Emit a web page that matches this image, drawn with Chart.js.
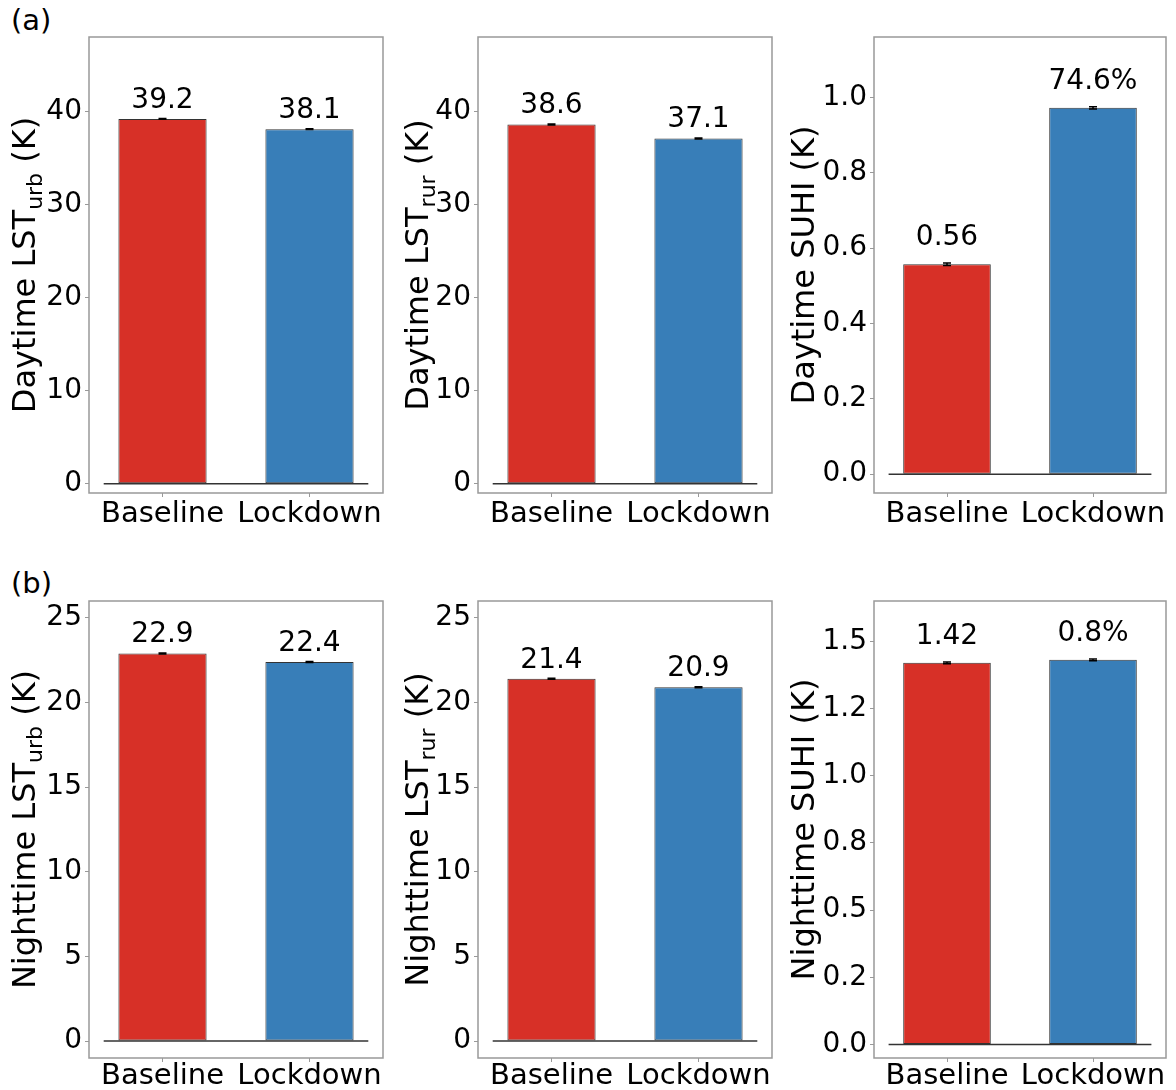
<!DOCTYPE html>
<html>
<head>
<meta charset="utf-8">
<script src="https://cdn.jsdelivr.net/npm/chart.js@4.4.1/dist/chart.umd.min.js"></script>
<style>
  body { margin: 0; background: #fff; width: 1176px; height: 1090px; position: relative; overflow: hidden; font-family: 'DejaVu Sans', sans-serif; }
  canvas { position: absolute; }
  .tag { position: absolute; font-size: 29px; color: #000; line-height: 1; }
</style>
</head>
<body>
<div class="tag" style="left:11px; top:6px;">(a)</div>
<div class="tag" style="left:11px; top:569px;">(b)</div>
<canvas id="c0"></canvas>
<canvas id="c1"></canvas>
<canvas id="c2"></canvas>
<canvas id="c3"></canvas>
<canvas id="c4"></canvas>
<canvas id="c5"></canvas>
<script>
// data
const categories = ['Baseline', 'Lockdown'];

const dayUrb = [39.2, 38.1];
const dayRur = [38.6, 37.1];
const daySuhi = [0.557, 0.972];
const nightUrb = [22.9, 22.4];
const nightRur = [21.4, 20.9];
const nightSuhi = [1.42, 1.431];

const dayUrbErr = [0.05, 0.05];
const dayRurErr = [0.05, 0.05];
const daySuhiErr = [0.003, 0.003];
const nightUrbErr = [0.03, 0.03];
const nightRurErr = [0.03, 0.03];
const nightSuhiErr = [0.003, 0.003];

const daySuhiLabels = ['0.56', '74.6%'];
const nightSuhiLabels = ['1.42', '0.8%'];

const dayLstTicks = [0, 10, 20, 30, 40];
const nightLstTicks = [0, 5, 10, 15, 20, 25];
const daySuhiTicks = [0, 0.2, 0.4, 0.6, 0.8, 1.0];
const daySuhiTickLabels = ['0.0', '0.2', '0.4', '0.6', '0.8', '1.0'];
const nightSuhiTicks = [0, 0.25, 0.5, 0.75, 1.0, 1.25, 1.5];
const nightSuhiTickLabels = ['0.0', '0.2', '0.5', '0.8', '1.0', '1.2', '1.5'];

const dayLstRange = [-1, 48];
const nightLstRange = [-1, 26];
const daySuhiRange = [-0.05, 1.16];
const nightSuhiRange = [-0.05, 1.65];

const barColors = ['#d73027', '#387eb8'];
const frameColor = '#999999';

Chart.defaults.font.family = "'DejaVu Sans', sans-serif";
Chart.defaults.color = '#000';

// page layout: canvas box and plot frame for each column / row
const cols = [
    { x: 0, w: 395, l: 89, r: 383, tx: 35 },
    { x: 395, w: 390, l: 478, r: 772, tx: 33 },
    { x: 785, w: 391, l: 874, r: 1166, tx: 29 }
];
const rows = [
    { y: 0, h: 545, t: 37, b: 493, pad: 0 },
    { y: 545, h: 545, t: 601, b: 1058, pad: -3 }
];

const panels = [
    { values: dayUrb, errs: dayUrbErr, labels: dayUrb.map(v => v.toFixed(1)), ticks: dayLstTicks, tickLabels: null, range: dayLstRange, title: ['Daytime LST', 'urb', ' (K)'], gap: 11 },
    { values: dayRur, errs: dayRurErr, labels: dayRur.map(v => v.toFixed(1)), ticks: dayLstTicks, tickLabels: null, range: dayLstRange, title: ['Daytime LST', 'rur', ' (K)'], gap: 11 },
    { values: daySuhi, errs: daySuhiErr, labels: daySuhiLabels, ticks: daySuhiTicks, tickLabels: daySuhiTickLabels, range: daySuhiRange, title: ['Daytime SUHI (K)', '', ''], gap: 19 },
    { values: nightUrb, errs: nightUrbErr, labels: nightUrb.map(v => v.toFixed(1)), ticks: nightLstTicks, tickLabels: null, range: nightLstRange, title: ['Nighttime LST', 'urb', ' (K)'], gap: 11 },
    { values: nightRur, errs: nightRurErr, labels: nightRur.map(v => v.toFixed(1)), ticks: nightLstTicks, tickLabels: null, range: nightLstRange, title: ['Nighttime LST', 'rur', ' (K)'], gap: 11 },
    { values: nightSuhi, errs: nightSuhiErr, labels: nightSuhiLabels, ticks: nightSuhiTicks, tickLabels: nightSuhiTickLabels, range: nightSuhiRange, title: ['Nighttime SUHI (K)', '', ''], gap: 19 }
];

const extrasPlugin = {
    id: 'extras',
    afterDatasetsDraw(chart, args, opts) {
        const ctx = chart.ctx;
        const area = chart.chartArea;
        const yScale = chart.scales.y;
        const p = opts.panel;
        const meta = chart.getDatasetMeta(1);

        // frame
        ctx.save();
        ctx.strokeStyle = frameColor;
        ctx.lineWidth = 1.5;
        ctx.strokeRect(area.left, area.top, area.right - area.left, area.bottom - area.top);

        // error bars
        ctx.strokeStyle = '#000';
        ctx.lineWidth = 1.5;
        meta.data.forEach((bar, i) => {
            const hi = yScale.getPixelForValue(p.values[i] + p.errs[i]);
            const lo = yScale.getPixelForValue(p.values[i] - p.errs[i]);
            ctx.beginPath();
            ctx.moveTo(bar.x, hi); ctx.lineTo(bar.x, lo);
            ctx.moveTo(bar.x - 4, hi); ctx.lineTo(bar.x + 4, hi);
            ctx.moveTo(bar.x - 4, lo); ctx.lineTo(bar.x + 4, lo);
            ctx.stroke();
        });

        // value labels
        ctx.fillStyle = '#000';
        ctx.font = "28px 'DejaVu Sans'";
        ctx.textAlign = 'center';
        ctx.textBaseline = 'alphabetic';
        meta.data.forEach((bar, i) => {
            ctx.fillText(p.labels[i], bar.x, bar.y - p.gap);
        });
        ctx.restore();
    },
    afterDraw(chart, args, opts) {
        // rotated y title with subscript
        const ctx = chart.ctx;
        const area = chart.chartArea;
        const [main, sub, tail] = opts.panel.title;
        const bigFont = "32px 'DejaVu Sans'";
        const subFont = "22px 'DejaVu Sans'";
        ctx.save();
        ctx.font = bigFont;
        const w1 = ctx.measureText(main).width;
        const w3 = ctx.measureText(tail).width;
        ctx.font = subFont;
        const w2 = ctx.measureText(sub).width;
        const total = w1 + w2 + w3;
        ctx.translate(opts.tx, (area.top + area.bottom) / 2);
        ctx.rotate(-Math.PI / 2);
        ctx.fillStyle = '#000';
        ctx.textBaseline = 'alphabetic';
        ctx.textAlign = 'left';
        let x = -total / 2;
        ctx.font = bigFont;
        ctx.fillText(main, x, 0);
        x += w1;
        ctx.font = subFont;
        ctx.fillText(sub, x, 7);
        x += w2;
        ctx.font = bigFont;
        ctx.fillText(tail, x, 0);
        ctx.restore();
    }
};

panels.forEach((p, k) => {
    const col = cols[k % 3];
    const row = rows[Math.floor(k / 3)];
    const canvas = document.getElementById('c' + k);
    canvas.width = col.w;
    canvas.height = row.h;
    canvas.style.left = col.x + 'px';
    canvas.style.top = row.y + 'px';

    new Chart(canvas.getContext('2d'), {
        type: 'bar',
        data: {
            datasets: [
                {
                    type: 'line',
                    data: [{ x: -0.4, y: 0 }, { x: 1.4, y: 0 }],
                    borderColor: '#333',
                    borderWidth: 1.5,
                    pointRadius: 0
                },
                {
                    data: p.values.map((v, i) => ({ x: i, y: v })),
                    backgroundColor: barColors,
                    borderColor: 'rgba(0,0,0,0.8)',
                    borderWidth: 1,
                    borderSkipped: false,
                    categoryPercentage: 1,
                    barPercentage: 0.6
                }
            ]
        },
        options: {
            responsive: false,
            animation: false,
            layout: { padding: { top: row.t - row.y, right: col.x + col.w - col.r, left: 0, bottom: 0 } },
            plugins: {
                legend: { display: false },
                tooltip: { enabled: false },
                extras: { panel: p, tx: col.tx }
            },
            scales: {
                x: {
                    type: 'linear',
                    min: -0.5,
                    max: 1.5,
                    offset: false,
                    afterBuildTicks: s => { s.ticks = categories.map((c, i) => ({ value: i })); },
                    afterFit: s => { s.height = row.y + row.h - row.b; },
                    border: { display: false },
                    grid: { offset: false, drawOnChartArea: false, tickLength: 4, color: frameColor },
                    ticks: {
                        autoSkip: false,
                        maxRotation: 0,
                        padding: row.pad,
                        font: { size: 29 },
                        callback: v => categories[v]
                    }
                },
                y: {
                    min: p.range[0],
                    max: p.range[1],
                    afterBuildTicks: s => { s.ticks = p.ticks.map(v => ({ value: v })); },
                    afterFit: s => { s.width = col.l - col.x; },
                    border: { display: false },
                    grid: { drawOnChartArea: false, tickLength: 4, color: frameColor },
                    ticks: {
                        padding: 3,
                        font: { size: 28 },
                        callback: (v, i) => p.tickLabels ? p.tickLabels[i] : String(v)
                    }
                }
            }
        },
        plugins: [extrasPlugin]
    });
});
</script>
</body>
</html>
